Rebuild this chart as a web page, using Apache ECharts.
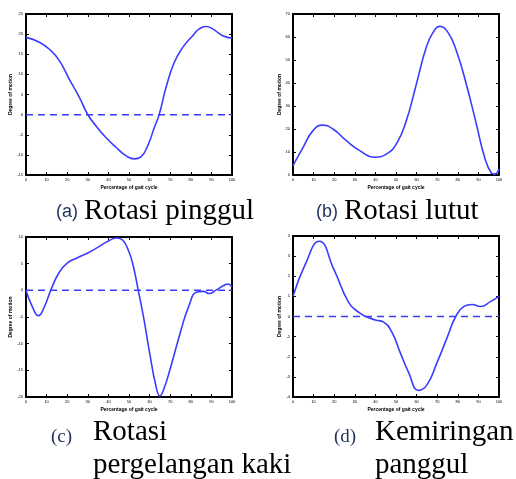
<!DOCTYPE html>
<html><head><meta charset="utf-8">
<script src="https://cdn.jsdelivr.net/npm/echarts@6/dist/echarts.min.js"></script>
<style>html,body{margin:0;padding:0;background:#fff}#c{width:516px;height:479px}</style>
</head><body><div id="c"></div>
<script>
// ---- Data ----
const xTicks = [0,10,20,30,40,50,60,70,80,90,100];

// (a) Rotasi pinggul
const hipX = [0,6.5,12.1,16.2,21,25.9,29.9,34,38.8,43.7,48.5,52.6,55.8,59.1,62.3,64.7,68,72,76.1,80.9,84.1,87.4,90.6,95.5,100];
const hipY = [19.2,18.0,15.9,13.4,8.8,4.3,0.1,-2.8,-5.7,-8.1,-10.2,-11.0,-10.5,-7.7,-3.2,0.1,6.8,13,16.7,19.6,21.3,21.9,21.3,19.6,19.0];
// (b) Rotasi lutut
const kneeX = [0,4.9,9.7,14.2,19.4,25.9,32.4,39.6,45.3,50.2,55,59.9,64.7,68,71.2,75.2,79.3,84.1,89,93,96.3,97.9,100];
const kneeY = [4.1,12,19.3,21.7,20,14.9,10.6,7.7,9.1,13.5,23.6,39.6,55.5,62,64.6,62,54,39.6,22.2,7.7,0.9,0.4,2.6];
// (c) Rotasi pergelangan kaki
const ankleX = [0,3,6,9,12,16,20,25,30,35,40,44,47,50,52,54.5,57,60,63,65,67,70,75,79,83,86,89,92,96,98,100];
const ankleY = [0,-3,-4.75,-3,0,3.3,5.1,6.1,7,8.1,9.25,9.8,9.4,7.2,4.7,0,-4.9,-11.7,-17.8,-19.8,-18.4,-14.7,-7.8,-3,-0.3,-0.2,-0.6,0,0.9,1.2,0.6];
// (d) Kemiringan panggul
const pelvX = [0,6,12.7,20,27,32,36,40,44,48,52,56,61,65,70,75,79,83,87,91,96,100];
const pelvY = [1.0,2.6,3.74,2.3,0.7,0.2,-0.03,-0.17,-0.28,-0.78,-1.78,-2.75,-3.67,-3.4,-2.27,-1.0,0,0.5,0.6,0.5,0.75,1.0];

const yRanges = [
  {min:-15,max:25,interval:5},
  {min:0,max:70,interval:10},
  {min:-20,max:10,interval:5},
  {min:-4,max:4,interval:1}
];
const zeroLine = [true,false,true,true];
const captions = ['(a)','(b)','(c)','(d)'];

const grids = [
  {left:26,top:14,width:206,height:161},
  {left:293,top:14,width:206,height:161},
  {left:26,top:237,width:206,height:160},
  {left:293,top:236,width:206,height:161}
];

const blue = '#3c3cff';
const xAxes=[], yAxes=[], series=[];
const datasets = [[hipX,hipY],[kneeX,kneeY],[ankleX,ankleY],[pelvX,pelvY]];
grids.forEach((g,i)=>{
  const axLine = {show:true,onZero:false,lineStyle:{color:'#000',width:2}};
  const tick = {show:true,inside:true,length:3,lineStyle:{color:'#000',width:1}};
  xAxes.push({type:'value',gridIndex:i,min:0,max:100,interval:10,position:'bottom',
    axisLine:axLine,axisTick:tick,splitLine:{show:false},
    axisLabel:{fontSize:4,color:'#000',margin:3},
    name:'Percentage of gait cycle',nameLocation:'middle',nameGap:10,
    nameTextStyle:{fontSize:5,color:'#000',fontWeight:'bold'}});
  xAxes.push({type:'value',gridIndex:i,min:0,max:100,interval:10,position:'top',
    axisLine:axLine,axisTick:tick,splitLine:{show:false},axisLabel:{show:false}});
  const r = yRanges[i];
  yAxes.push({type:'value',gridIndex:i,min:r.min,max:r.max,interval:r.interval,position:'left',
    axisLine:axLine,axisTick:tick,splitLine:{show:false},
    axisLabel:{fontSize:4,color:'#000',margin:3},
    name:'Degree of motion',nameLocation:'middle',nameGap:11,nameRotate:90,
    nameTextStyle:{fontSize:5,color:'#000',fontWeight:'bold'}});
  yAxes.push({type:'value',gridIndex:i,min:r.min,max:r.max,interval:r.interval,position:'right',
    axisLine:axLine,axisTick:tick,splitLine:{show:false},axisLabel:{show:false}});
  const [xs,ys] = datasets[i];
  series.push({type:'line',xAxisIndex:2*i,yAxisIndex:2*i,smooth:0.5,showSymbol:false,symbol:'none',
    data:xs.map((x,k)=>[x,ys[k]]),lineStyle:{color:blue,width:1.6},z:3});
  if(zeroLine[i]){
    series.push({type:'line',xAxisIndex:2*i,yAxisIndex:2*i,showSymbol:false,symbol:'none',
      data:[[0,0],[100,0]],lineStyle:{color:blue,width:1.5,type:[7,5]},z:2});
  }
});

const serif = '"Liberation Serif","DejaVu Serif",serif';
const sans = '"Liberation Sans",Arial,sans-serif';
const capColor = '#1f2f5f';
const graphic = [
  {type:'text',left:56,top:203,style:{text:captions[0],font:'18px '+sans,fill:capColor}},
  {type:'text',left:84,top:197,style:{text:'Rotasi pinggul',font:'29px '+serif,fill:'#000'}},
  {type:'text',left:316,top:203,style:{text:captions[1],font:'18px '+sans,fill:capColor}},
  {type:'text',left:344,top:197,style:{text:'Rotasi lutut',font:'29px '+serif,fill:'#000'}},
  {type:'text',left:51,top:428,style:{text:captions[2],font:'19px '+serif,fill:capColor}},
  {type:'text',left:93,top:418,style:{text:'Rotasi',font:'29px '+serif,fill:'#000'}},
  {type:'text',left:93,top:451,style:{text:'pergelangan kaki',font:'29px '+serif,fill:'#000'}},
  {type:'text',left:334,top:428,style:{text:captions[3],font:'19px '+serif,fill:capColor}},
  {type:'text',left:375,top:418,style:{text:'Kemiringan',font:'29px '+serif,fill:'#000'}},
  {type:'text',left:375,top:451,style:{text:'panggul',font:'29px '+serif,fill:'#000'}}
];

const chart = echarts.init(document.getElementById('c'),null,{renderer:'canvas'});
chart.setOption({
  animation:false,
  backgroundColor:'#fff',
  grid:grids,
  xAxis:xAxes,
  yAxis:yAxes,
  series:series,
  graphic:graphic
});
</script></body></html>
